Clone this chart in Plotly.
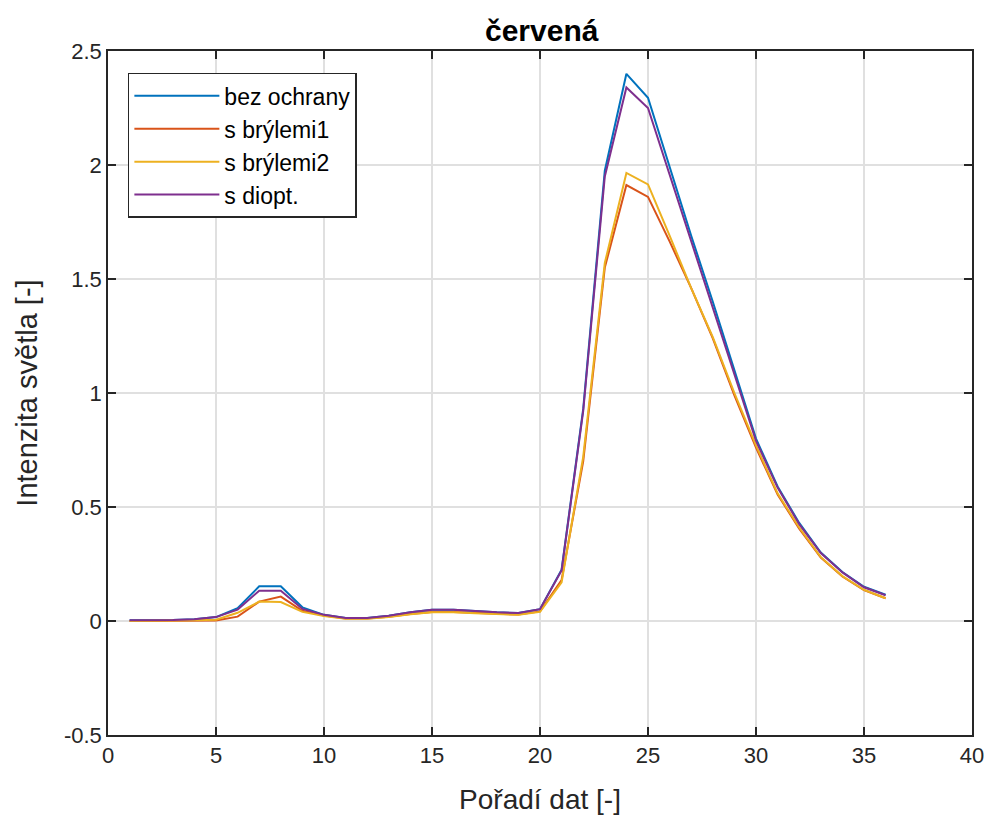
import plotly.graph_objects as go

x = list(range(1, 37))

bez_ochrany = [0.003, 0.003, 0.004, 0.008, 0.017, 0.056, 0.152, 0.152, 0.060, 0.027,
               0.013, 0.013, 0.023, 0.038, 0.049, 0.049, 0.043, 0.038, 0.035, 0.052,
               0.225, 0.930, 1.975, 2.400, 2.295, 1.990, 1.690, 1.400, 1.100, 0.800,
               0.590, 0.430, 0.300, 0.215, 0.150, 0.115]
s_brylemi1 = [0.000, 0.000, 0.001, 0.001, 0.002, 0.019, 0.085, 0.107, 0.045, 0.024,
              0.011, 0.011, 0.019, 0.031, 0.040, 0.040, 0.035, 0.031, 0.028, 0.042,
              0.180, 0.700, 1.550, 1.912, 1.860, 1.665, 1.460, 1.240, 0.990, 0.760,
              0.555, 0.405, 0.278, 0.195, 0.135, 0.100]
s_brylemi2 = [0.000, 0.000, 0.001, 0.003, 0.006, 0.036, 0.085, 0.083, 0.040, 0.022,
              0.010, 0.010, 0.018, 0.030, 0.038, 0.038, 0.034, 0.030, 0.027, 0.040,
              0.170, 0.720, 1.570, 1.965, 1.915, 1.690, 1.460, 1.245, 1.000, 0.770,
              0.560, 0.410, 0.280, 0.197, 0.137, 0.100]
s_diopt = [0.003, 0.003, 0.004, 0.008, 0.017, 0.050, 0.133, 0.133, 0.053, 0.027,
           0.013, 0.013, 0.023, 0.038, 0.049, 0.049, 0.043, 0.038, 0.035, 0.052,
           0.222, 0.920, 1.950, 2.340, 2.250, 1.960, 1.670, 1.380, 1.090, 0.790,
           0.585, 0.425, 0.298, 0.213, 0.148, 0.113]

names = ["bez ochrany", "s brýlemi1", "s brýlemi2", "s diopt."]
colors = ["#0072BD", "#D95319", "#EDB120", "#7E2F8E"]
series = [bez_ochrany, s_brylemi1, s_brylemi2, s_diopt]

x_ticks = [0, 5, 10, 15, 20, 25, 30, 35, 40]
y_ticks = [-0.5, 0, 0.5, 1, 1.5, 2, 2.5]
y_tick_labels = ["-0.5", "0", "0.5", "1", "1.5", "2", "2.5"]

fig = go.Figure()
for n, c, s in zip(names, colors, series):
    fig.add_trace(go.Scatter(x=x, y=s, mode="lines", name=n,
                             line=dict(color=c, width=2)))

font = "Liberation Sans, Arial, sans-serif"
axis_common = dict(showline=True, linecolor="#262626", linewidth=1.5, mirror="ticks",
                   ticks="inside", ticklen=8, tickwidth=1.5, tickcolor="#262626",
                   showgrid=True, gridcolor="#e0e0e0", gridwidth=1.5, zeroline=False,
                   automargin=False,
                   tickfont=dict(family=font, size=22, color="#262626"))

fig.update_layout(
    width=992, height=818,
    margin=dict(l=100, r=28, t=43, b=91),
    paper_bgcolor="white", plot_bgcolor="white",
    title=dict(text="<b>červená</b>", x=0.538, xanchor="center", y=0.973, yanchor="middle",
               font=dict(family=font, size=30, color="black")),
    xaxis=dict(range=[0, 40], tickvals=x_ticks, ticktext=[str(t) for t in x_ticks],
               title=dict(text="Pořadí dat [-]", font=dict(family=font, size=28, color="#262626"), standoff=22),
               **axis_common),
    yaxis=dict(range=[-0.5, 2.5], tickvals=y_ticks, ticktext=y_tick_labels,
               title=dict(text="Intenzita světla [-]", font=dict(family=font, size=29, color="#262626"), standoff=18),
               **axis_common),
    legend=dict(x=0.023, y=0.968, xanchor="left", yanchor="top",
                bgcolor="white", bordercolor="#262626", borderwidth=1.5,
                font=dict(family=font, size=23, color="black"),
                tracegroupgap=0, itemwidth=85),
    showlegend=True,
)

fig.write_html("out.html")
